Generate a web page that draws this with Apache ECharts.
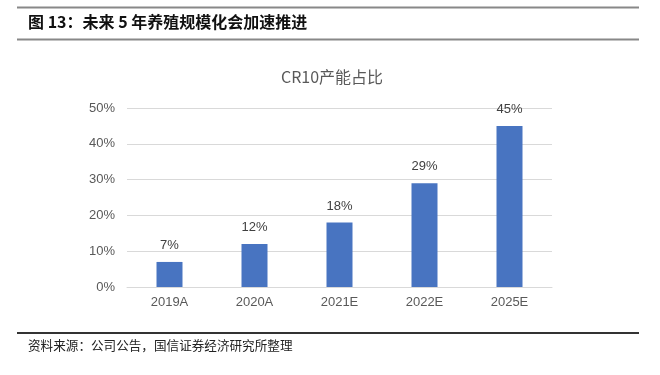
<!DOCTYPE html>
<html><head><meta charset="utf-8">
<script src="https://cdn.jsdelivr.net/npm/echarts@6/dist/echarts.min.js"></script>
<style>html,body{margin:0;padding:0;background:#fff;}#c{width:660px;height:375px;}</style>
</head><body><div id="c"></div>
<script>
const categories = ['2019A','2020A','2021E','2022E','2025E'];
const values = [7, 12, 18, 29, 45];
const yTicks = [0, 10, 20, 30, 40, 50];
const figTitle = '图 13：未来 5 年养殖规模化会加速推进';
const chartTitle = 'CR10产能占比';
const source = '资料来源：公司公告，国信证券经济研究所整理';

const chart = echarts.init(document.getElementById('c'), null, {renderer:'canvas'});
chart.setOption({
  animation:false,
  backgroundColor:'#fff',
  title:{text:chartTitle,left:327,textAlign:'center',top:64,
    textStyle:{fontFamily:'Noto Sans CJK SC',fontSize:16,fontWeight:'normal',color:'#595959'}},
  graphic:[
    {type:'line',shape:{x1:17,y1:7.5,x2:639,y2:7.5},style:{stroke:'#888',lineWidth:2}},
    {type:'line',shape:{x1:17,y1:39.5,x2:639,y2:39.5},style:{stroke:'#888',lineWidth:2}},
    {type:'text',left:28,top:14,style:{text:figTitle,fontFamily:'Noto Sans CJK SC',fontSize:16,fontWeight:'bold',fill:'#111'}},
    {type:'line',shape:{x1:17,y1:333,x2:639,y2:333},style:{stroke:'#333',lineWidth:2}},
    {type:'text',left:28,top:339,style:{text:source,fontFamily:'Noto Sans CJK SC',fontSize:12.6,fill:'#222'}}
  ],
  grid:{left:127,right:108,top:108,bottom:88},
  xAxis:{type:'category',data:categories,
    axisLine:{lineStyle:{color:'#d9d9d9'}},axisTick:{show:false},
    axisLabel:{color:'#595959',fontSize:13,margin:9,fontFamily:'Liberation Sans'}},
  yAxis:{type:'value',min:0,max:50,interval:10,
    axisLine:{show:false},axisTick:{show:false},
    splitLine:{lineStyle:{color:'#d9d9d9'}},
    axisLabel:{color:'#595959',fontSize:13,margin:12,fontFamily:'Liberation Sans',
      formatter:v=>yTicks.includes(v)?v+'%':''}},
  series:[{type:'bar',data:values,barWidth:26,itemStyle:{color:'#4874C1'},
    label:{show:true,position:'top',distance:10,formatter:p=>p.value+'%',
      color:'#404040',fontSize:13,fontFamily:'Liberation Sans'}}]
});
</script></body></html>
